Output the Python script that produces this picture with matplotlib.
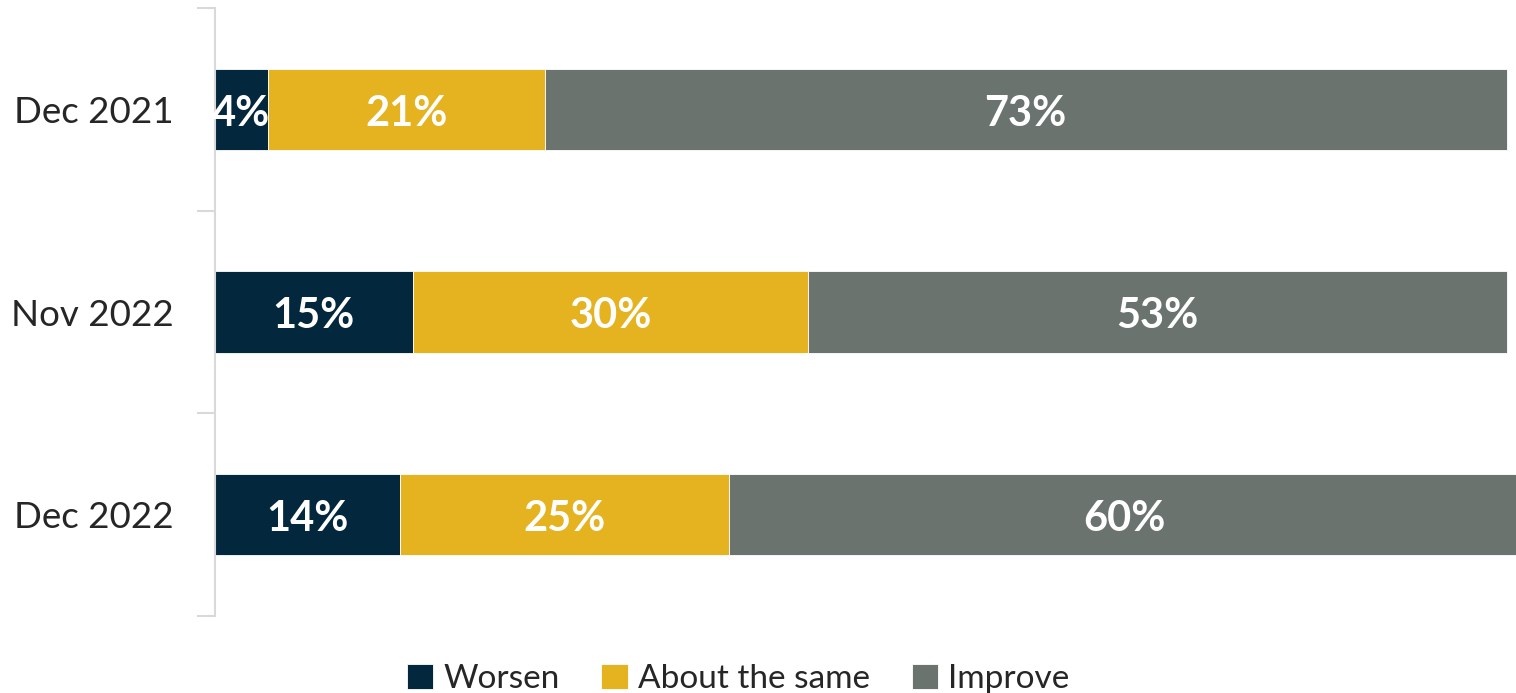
import matplotlib
matplotlib.use("Agg")
import matplotlib.pyplot as plt
import numpy as np

plt.rcParams['font.family'] = ['Lato', 'DejaVu Sans']

categories = ["Dec 2021", "Nov 2022", "Dec 2022"]
series_names = ["Worsen", "About the same", "Improve"]
worsen = [4, 15, 14]
same = [21, 30, 25]
improve = [73, 53, 60]
colors = ["#03273C", "#E5B320", "#6A736D"]

fig = plt.figure(figsize=(15.16, 6.93), dpi=100)
W, H = 1516, 693
ax = fig.add_axes([215 / W, 1 - 616 / H, 1318 / W, 608 / H])

y = np.arange(len(categories))
left = np.zeros(len(categories))
for name, vals, col in zip(series_names, [worsen, same, improve], colors):
    vals = np.array(vals, dtype=float)
    ax.barh(y, vals, left=left, height=0.4, color=col, edgecolor="white",
            linewidth=0.6, label=name)
    for yi, l, v in zip(y, left, vals):
        ax.annotate(f"{int(v)}%", (l + v / 2, yi), xytext=(0, -3),
                    textcoords="offset points", ha="center", va="center",
                    color="white", fontsize=30, fontweight="bold")
    left += vals

ax.set_xlim(0, 100)
ax.set_ylim(2.5, -0.5)
ax.set_yticks(y)
ax.set_yticklabels(categories, fontsize=26.5, color="#262626")
ax.tick_params(axis="y", which="major", length=0, pad=30)
ax.set_yticks([-0.5, 0.5, 1.5, 2.5], minor=True)
ax.tick_params(axis="y", which="minor", length=13, width=1.5, color="#D9D9D9")
ax.set_xticks([])
for s in ["top", "right", "bottom"]:
    ax.spines[s].set_visible(False)
ax.spines["left"].set_color("#D9D9D9")
ax.spines["left"].set_linewidth(1.5)

handles, labels = ax.get_legend_handles_labels()
fig.legend(handles, labels, loc="center", bbox_to_anchor=(738 / W, 1 - 679 / H),
           ncol=3, frameon=False, fontsize=24, handlelength=0.8, handleheight=0.8,
           handletextpad=0.3, columnspacing=1.25, labelcolor="#262626")

fig.savefig("out.png", dpi=100)
